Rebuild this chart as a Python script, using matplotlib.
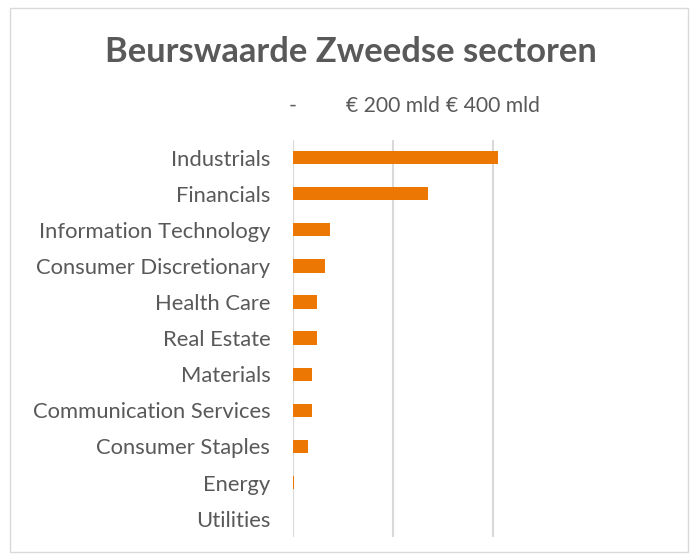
import matplotlib.pyplot as plt
from matplotlib.patches import Rectangle

categories = ["Industrials", "Financials", "Information Technology", "Consumer Discretionary",
              "Health Care", "Real Estate", "Materials", "Communication Services",
              "Consumer Staples", "Energy", "Utilities"]
values = [410, 271, 75, 64, 48, 48, 39, 39, 31, 2, 0]
tick_vals = [0, 200, 400]
tick_labels = ["-", "€ 200 mld", "€ 400 mld"]

plt.rcParams['font.family'] = ['Lato', 'DejaVu Sans']
fig = plt.figure(figsize=(6.91, 5.6), dpi=100)
W, H = 691, 560
ax = fig.add_axes([292.5 / W, 1 - 536.7 / H, (505 - 292.5) / W, (536.7 - 139.5) / H])

y = list(range(len(categories)))
ax.barh(y, values, height=0.37, color='#ED7703', zorder=3)
ax.set_ylim(len(categories) - 0.5, -0.5)
ax.set_xlim(0, 400 * (505 - 292.5) / (492.7 - 292.5))
ax.set_yticks(y)
ax.set_yticklabels(categories, fontsize=15.8, color='#595959')
ax.xaxis.tick_top()
ax.set_xticks(tick_vals)
ax.set_xticklabels(tick_labels, fontsize=15.2, color='#595959')
ax.tick_params(axis='both', length=0)
ax.tick_params(axis='y', pad=16)
ax.tick_params(axis='x', pad=17)
ax.grid(axis='x', color='#D9D9D9', linewidth=1.5, zorder=0)
for s in ax.spines.values():
    s.set_visible(False)

fig.text(351 / W, 1 - 52 / H, "Beurswaarde Zweedse sectoren", ha='center', va='center',
         fontsize=24.8, fontweight='bold', color='#595959')
fig.patches.append(Rectangle((10 / W, 1 - 552 / H), 678 / W, 544 / H, transform=fig.transFigure,
                             fill=False, edgecolor='#D9D9D9', linewidth=1))
fig.savefig('out.png', dpi=100)
